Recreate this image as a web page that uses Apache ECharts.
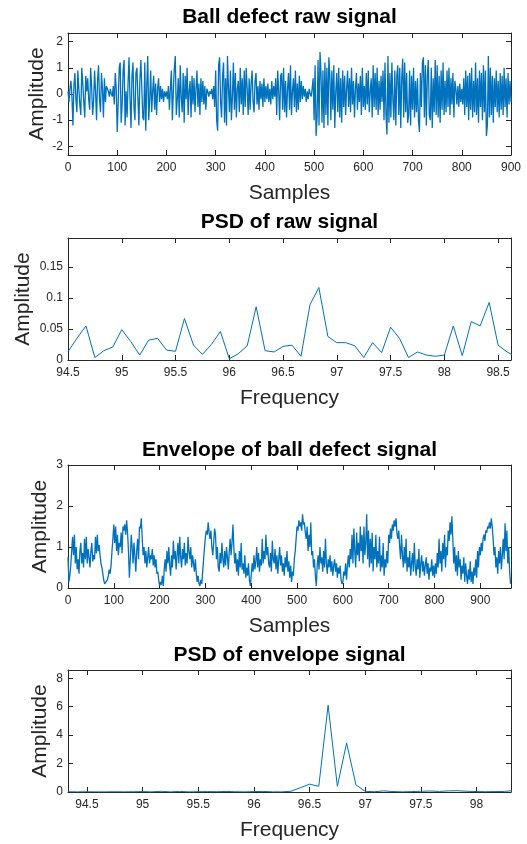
<!DOCTYPE html>
<html><head><meta charset="utf-8">
<script src="https://cdn.jsdelivr.net/npm/echarts@6/dist/echarts.min.js"></script>
<style>html,body{margin:0;padding:0;background:#fff}#c{width:527px;height:844px}</style>
</head><body><div id="c"></div>
<script>
const plotTitles = ['Ball defect raw signal', 'PSD of raw signal', 'Envelope of ball defect signal', 'PSD of envelope signal'];
const xNames = ['Samples', 'Frequency', 'Samples', 'Frequency'];
const yName = 'Amplitude';

// raw signal, one value every 2 samples (sample index = 2 * position)
const sampleStep = 2;
const rawSignal = [
0.1,-0.3,0.2,0.5,-0.1,-1.2,0.3,0.8,-0.2,-0.7,0.9,0.2,-0.4,-0.8,1.0,0.4,-0.3,-0.9,0.7,0.1,
0.6,-0.2,-0.6,1.0,0.3,-0.8,-0.3,0.9,0.1,-1.0,0.5,1.1,-0.2,-0.7,0.8,0.2,-0.9,0.6,-0.3,0.3,
0.2,0.1,-0.1,0.2,0.0,-0.1,0.3,-0.4,0.8,0.2,-1.45,-0.3,1.0,1.2,-1.1,-0.4,0.9,1.3,-1.2,0.1,
-0.9,0.4,1.4,-0.2,-1.3,0.7,1.2,-0.5,-1.0,0.8,1.0,-0.1,-1.2,0.5,1.3,0.2,-0.9,-1.0,1.2,-1.4,
0.3,1.45,-1.0,-0.2,0.9,-0.7,0.1,0.7,-0.6,0.4,-0.8,0.2,0.6,-0.3,0.3,-0.2,0.2,-0.3,0.1,-0.1,
0.1,-0.2,0.3,-0.6,0.2,0.9,-1.0,0.1,1.0,1.45,-0.8,-0.2,0.6,-0.9,1.1,-0.1,-0.7,0.8,-1.1,0.7,
-0.2,1.0,-0.8,0.1,0.5,-0.9,0.7,-0.4,0.6,-0.7,0.2,0.9,-0.5,0.4,-0.8,0.6,-0.3,0.5,-0.4,0.3,
-0.6,0.2,0.1,-0.1,0.1,0.0,0.2,-0.2,0.3,-0.5,0.9,-1.0,-1.4,1.1,1.4,-0.3,-0.9,0.7,1.2,-1.1,
0.6,-1.2,1.45,0.2,-0.7,0.9,-1.0,-0.1,1.2,-0.6,0.8,-0.9,0.2,0.5,-0.7,1.0,-0.4,0.6,-0.8,0.9,
-0.5,1.0,0.2,-0.8,0.6,-0.6,0.4,0.9,-0.3,-0.7,0.5,0.8,-0.4,0.3,-0.6,0.5,-0.2,0.4,-0.5,0.6,
-0.3,0.3,-0.2,0.4,-0.3,0.2,-0.4,0.5,-0.2,0.3,-0.1,0.6,-0.8,0.9,0.1,-1.0,0.7,0.8,-0.6,1.0,
-0.7,0.5,-0.9,0.2,0.8,-0.6,1.1,-0.8,0.1,0.6,-0.5,0.9,-0.7,0.4,-0.6,0.7,-0.3,0.5,-0.2,0.3,
-0.1,0.2,-0.3,0.1,-0.2,0.2,0.0,-0.1,0.2,0.6,-1.0,1.1,-1.6,-0.9,1.3,-1.2,1.6,0.8,-1.1,0.9,
-1.3,1.2,-0.8,1.0,-1.2,1.4,0.7,-1.0,0.9,-0.6,1.1,-1.3,0.1,0.8,-0.7,1.0,-0.9,0.6,-1.1,0.9,
-0.5,0.7,-0.8,0.2,0.9,-0.5,0.6,-0.7,1.0,-0.4,0.5,-0.9,0.2,0.8,-0.6,0.4,-0.3,0.7,-0.8,1.0,
-0.5,0.3,-0.6,0.8,-0.4,0.9,-0.7,0.1,0.6,-0.9,1.1,-0.5,0.8,-0.6,1.0,-0.8,0.5,-0.6,0.7,-0.3,
0.9,-1.0,1.2,-0.8,-1.55,1.45,-1.1,0.8,-0.9,1.2,-0.2,-1.0,0.9,-1.2,0.7,1.1,-0.8,1.0,-1.3,0.6,
1.35,-0.9,1.2,-0.7,0.8,-1.1,-0.8,0.9,-1.2,0.7,-0.6,1.0,-0.9,0.5,-0.7,0.6,-1.0,-1.45,0.8,-0.5,
1.2,1.4,-0.9,1.1,-1.2,0.7,1.3,-0.8,-1.0,1.0,-1.3,0.6,-0.7,1.3,-0.8,1.1,-0.9,0.7,-1.1,0.9,
-0.6,1.2,-0.8,0.5,-0.7,0.9,-0.5,1.0,-0.8,0.6,-0.4,0.8,-0.9,0.5,0.2,-0.4,0.3,-0.5,0.4,-0.3,
0.2,-0.4,0.6,-0.8,0.9,-0.5,0.7,-1.0,0.8,-0.6,1.0,-0.9,0.5,-0.7,1.2,-0.8,0.6,-1.1,0.9,-0.5,
0.8,-1.0,1.1,-0.7,0.9,-1.6,-1.2,1.45,-0.9,1.0,-0.8,0.7,-1.1,0.6,-0.5,0.9,-0.7,0.5,-0.9,0.8,
-0.6,0.7,-0.8,1.0,-0.5,0.6,-0.9,0.8,-0.4,0.5,-0.3
];

// envelope signal, one value every 2 samples
const envSignal = [
0.75,0.15,0.3,0.55,0.9,1.25,0.8,1.3,0.6,1.0,0.45,0.7,0.35,0.9,1.1,0.6,0.85,0.5,1.2,0.7,
1.25,0.6,0.95,0.75,0.5,0.9,1.1,0.65,0.8,0.7,1.25,0.85,1.3,0.9,1.05,0.8,0.6,0.5,0.35,0.2,
0.1,0.07,0.12,0.2,0.3,0.45,0.35,0.55,0.9,1.2,1.55,1.1,1.5,0.9,1.3,0.8,1.1,1.0,1.35,0.85,
1.5,1.4,1.55,1.3,1.65,1.35,0.9,0.25,0.7,1.3,1.0,0.6,1.1,0.8,0.4,0.9,1.2,0.7,1.5,1.45,
1.7,1.2,0.8,1.0,0.6,0.9,0.5,0.75,1.0,0.6,0.8,0.7,0.95,0.55,0.8,0.5,0.7,0.35,0.4,0.2,
0.05,0.15,0.08,0.3,0.05,0.45,0.7,0.4,0.9,0.6,1.0,0.55,0.3,0.8,0.5,1.15,0.7,0.9,0.45,0.8,
1.1,0.6,1.25,0.75,0.5,0.95,0.7,1.1,0.55,0.85,0.6,1.25,0.9,0.7,1.0,0.5,0.8,0.6,0.4,0.7,
0.35,0.15,0.3,0.1,0.05,0.2,0.1,0.4,0.7,1.0,1.25,1.4,1.3,1.6,1.35,1.2,1.4,1.0,0.8,1.1,
1.45,1.3,0.7,1.0,0.5,0.4,0.85,0.6,1.1,0.7,0.5,0.9,0.55,1.0,0.75,0.45,0.9,1.2,0.8,1.1,
1.55,1.0,0.6,0.85,0.4,0.7,0.3,0.9,0.5,1.1,0.45,0.6,0.35,0.8,0.25,0.5,0.3,0.6,0.2,0.05,
0.3,0.6,0.4,0.8,0.45,0.65,1.0,0.5,0.85,0.4,0.7,0.55,1.2,0.6,0.9,0.7,1.3,0.8,1.0,0.6,
0.5,0.85,0.4,1.15,0.7,0.6,0.95,0.45,0.8,0.35,0.7,1.0,0.55,0.8,0.4,0.6,0.3,0.75,0.5,0.9,
0.4,0.65,0.25,0.55,0.15,0.4,0.3,0.7,0.9,1.2,1.5,1.4,1.65,1.5,1.6,1.4,1.8,1.55,1.6,1.35,
1.2,1.5,0.9,1.3,1.0,1.6,0.8,0.9,0.5,0.7,0.3,0.05,0.55,0.8,0.45,1.0,0.6,0.75,0.4,0.9,
0.5,1.2,0.6,0.35,0.7,0.5,0.8,0.4,0.65,0.3,0.55,0.7,0.4,0.6,0.25,0.5,0.35,0.55,0.2,0.1,
0.15,0.4,0.3,0.6,0.2,0.55,0.8,0.5,0.95,0.7,1.3,0.6,1.45,0.9,0.5,1.35,0.8,1.1,0.65,1.5,
0.9,1.3,0.6,1.5,0.8,1.1,1.8,0.7,1.4,0.5,1.2,0.6,1.35,0.4,1.0,0.7,1.3,0.5,0.9,0.6,
1.25,0.4,0.8,0.5,1.1,0.3,0.7,0.5,0.9,0.6,1.3,1.1,1.45,1.2,1.55,1.4,1.65,1.5,1.7,1.35,
1.2,1.4,1.0,0.7,1.3,0.8,0.5,1.0,0.6,1.2,0.4,0.75,0.5,0.9,0.3,0.6,0.85,0.4,1.1,0.55,
0.3,0.7,0.45,0.95,0.25,0.6,0.8,0.4,0.65,0.3,0.55,0.75,0.35,0.6,0.2,0.5,0.4,0.7,0.3,0.55,
0.25,0.6,0.35,0.85,0.5,1.2,0.6,0.9,0.4,1.1,0.7,1.3,0.5,1.0,0.8,1.4,1.15,1.6,1.3,1.75,
1.2,0.6,1.0,0.4,0.8,0.3,0.9,0.5,0.7,0.2,0.55,0.35,0.75,0.15,0.6,0.3,0.1,0.45,0.2,0.65,
0.15,0.4,0.1,0.5,0.3,0.7,0.25,0.9,0.5,1.0,0.8,1.1,0.9,1.2,1.3,1.15,1.4,1.35,1.5,1.45,
1.6,1.45,1.7,1.5,1.2,0.8,1.0,0.5,0.75,0.35,0.9,0.6,1.0,0.45,0.8,1.2,0.7,1.58,0.9,1.4,
0.6,1.0,0.4,0.1
];

const psdRawFreq = [94.5,94.583,94.667,94.75,94.833,94.917,95,95.083,95.167,95.25,95.333,95.417,95.5,95.583,95.667,95.75,95.833,95.917,96,96.083,96.167,96.25,96.333,96.417,96.5,96.583,96.667,96.75,96.833,96.917,97,97.083,97.167,97.25,97.333,97.417,97.5,97.583,97.667,97.75,97.833,97.917,98,98.083,98.167,98.25,98.333,98.417,98.5,98.583,98.667];
const psdRawAmp = [0.0135,0.035,0.055,0.004,0.015,0.021,0.049,0.03,0.008,0.032,0.035,0.016,0.014,0.067,0.024,0.009,0.025,0.046,0.002,0.01,0.023,0.086,0.015,0.013,0.022,0.024,0.006,0.089,0.117,0.038,0.028,0.028,0.023,0.004,0.028,0.012,0.053,0.035,0.004,0.013,0.008,0.006,0.008,0.055,0.007,0.062,0.055,0.093,0.024,0.013,0.005];

const psdEnvFreq = [94.333,94.417,94.5,94.583,94.667,94.75,94.833,94.917,95,95.083,95.167,95.25,95.333,95.417,95.5,95.583,95.667,95.75,95.833,95.917,96,96.083,96.167,96.25,96.333,96.417,96.5,96.583,96.667,96.75,96.833,96.917,97,97.083,97.167,97.25,97.333,97.417,97.5,97.583,97.667,97.75,97.833,97.917,98,98.083,98.167,98.25,98.333];
const psdEnvAmp = [0.02,0.01,0.02,0.01,0.01,0.02,0.01,0.02,0.03,0.01,0.05,0.01,0.04,0.01,0.02,0.03,0.02,0.04,0.02,0.01,0.03,0.04,0.01,0.01,0.05,0.3,0.55,0.4,6.1,0.4,3.45,0.5,0.05,0.02,0.08,0.03,0.01,0.03,0.05,0.07,0.04,0.08,0.09,0.05,0.03,0.02,0.03,0.04,0.1];

const rawXTicks = [0,100,200,300,400,500,600,700,800,900];
const rawYTicks = [-2,-1,0,1,2];
const psdRawXTicks = [94.5,95,95.5,96,96.5,97,97.5,98,98.5];
const psdRawYTicks = [0,0.05,0.1,0.15];
const envXTicks = [0,100,200,300,400,500,600,700,800,900];
const envYTicks = [0,1,2,3];
const psdEnvXTicks = [94.5,95,95.5,96,96.5,97,97.5,98];
const psdEnvYTicks = [0,2,4,6,8];

const FONT = '"Liberation Sans", Arial, Helvetica, sans-serif';
const AX = '#262626';
const LINE = '#0072BD';

const grids = [
  {top: 33, height: 122, x: [0, 900], y: [-2.33, 2.33], xt: rawXTicks, yt: rawYTicks, lw: 1.3, yGap: 20},
  {top: 238, height: 122, x: [94.5, 98.62], y: [0, 0.197], xt: psdRawXTicks, yt: psdRawYTicks, lw: 1, yGap: 34},
  {top: 465, height: 123, x: [0, 967], y: [0, 3], xt: envXTicks, yt: envYTicks, lw: 1.3, yGap: 17},
  {top: 670, height: 122, x: [94.33, 98.31], y: [0, 8.58], xt: psdEnvXTicks, yt: psdEnvYTicks, lw: 1, yGap: 17}
];

const seriesData = [
  rawSignal.map((v, i) => [i * sampleStep, v]),
  psdRawFreq.map((f, i) => [f, psdRawAmp[i]]),
  envSignal.map((v, i) => [i * sampleStep, v]),
  psdEnvFreq.map((f, i) => [f, psdEnvAmp[i]])
];

const option = {
  animation: false,
  backgroundColor: '#fff',
  textStyle: {fontFamily: FONT},
  grid: grids.map(g => ({left: 68, right: 16, top: g.top, height: g.height, containLabel: false})),
  xAxis: [],
  yAxis: [],
  series: [],
  graphic: []
};

const titleY = [17, 222, 450, 655];

grids.forEach((g, gi) => {
  const tickStyle = {show: true, inside: true, length: 5, lineStyle: {color: AX, width: 1}};
  const lineStyle = {show: true, onZero: false, lineStyle: {color: AX, width: 1}};
  option.xAxis.push({
    type: 'value', gridIndex: gi, position: 'bottom', min: g.x[0], max: g.x[1],
    axisLine: lineStyle,
    axisTick: Object.assign({}, tickStyle, {customValues: g.xt}),
    axisLabel: {show: true, customValues: g.xt, margin: 7, color: AX, fontSize: 12, fontFamily: FONT, formatter: v => String(v)},
    splitLine: {show: false},
    name: xNames[gi], nameLocation: 'middle', nameGap: 28,
    nameTextStyle: {fontSize: 21, color: AX, fontFamily: FONT}
  });
  option.xAxis.push({
    type: 'value', gridIndex: gi, position: 'top', min: g.x[0], max: g.x[1],
    axisLine: lineStyle,
    axisTick: Object.assign({}, tickStyle, {customValues: g.xt}),
    axisLabel: {show: false},
    splitLine: {show: false}
  });
  option.yAxis.push({
    type: 'value', gridIndex: gi, position: 'left', min: g.y[0], max: g.y[1],
    axisLine: lineStyle,
    axisTick: Object.assign({}, tickStyle, {customValues: g.yt}),
    axisLabel: {show: true, customValues: g.yt, margin: 5, color: AX, fontSize: 12, fontFamily: FONT, formatter: v => String(v)},
    splitLine: {show: false},
    name: yName, nameLocation: 'middle', nameGap: g.yGap, nameMoveOverlap: false,
    nameTextStyle: {fontSize: 21, color: AX, fontFamily: FONT}
  });
  option.yAxis.push({
    type: 'value', gridIndex: gi, position: 'right', min: g.y[0], max: g.y[1],
    axisLine: lineStyle,
    axisTick: Object.assign({}, tickStyle, {customValues: g.yt}),
    axisLabel: {show: false},
    splitLine: {show: false}
  });
  option.series.push({
    type: 'line', xAxisIndex: gi * 2, yAxisIndex: gi * 2,
    data: seriesData[gi], showSymbol: false, symbol: 'none', clip: true,
    lineStyle: {color: LINE, width: g.lw}, sampling: null
  });
  option.graphic.push({
    type: 'text', x: 289.5, y: titleY[gi],
    style: {text: plotTitles[gi], fill: '#000', font: 'bold 21px ' + FONT, textAlign: 'center', textVerticalAlign: 'middle'}
  });
});

const chart = echarts.init(document.getElementById('c'), null, {renderer: 'canvas'});
chart.setOption(option);
</script>
</body></html>
